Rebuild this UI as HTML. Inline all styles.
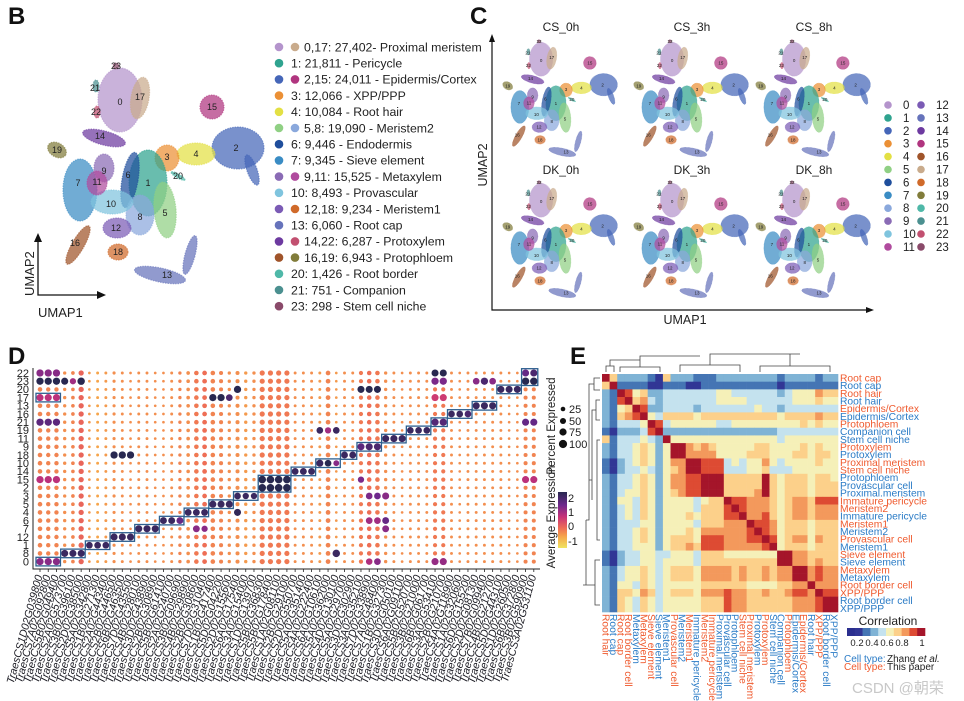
<!DOCTYPE html>
<html><head><meta charset="utf-8"><style>
html,body{margin:0;padding:0;background:#fff;}
svg{display:block;font-family:"Liberation Sans","Noto Sans CJK SC",sans-serif;}
</style></head><body>
<svg id="fig" width="964" height="701" viewBox="0 0 964 701" xmlns="http://www.w3.org/2000/svg">
<text x="8" y="24" font-size="24" font-weight="bold" fill="#111">B</text>
<text x="470" y="24" font-size="24" font-weight="bold" fill="#111">C</text>
<text x="8" y="364" font-size="24" font-weight="bold" fill="#111">D</text>
<text x="570" y="364" font-size="24" font-weight="bold" fill="#111">E</text>
<g id="gB"></g>
<g id="gBleg"></g>
<g id="gC"></g>
<g id="gD"></g>
<g id="gE"></g>
</svg>
<script>
var NS="http://www.w3.org/2000/svg";
function mk(p,tag,a){var e=document.createElementNS(NS,tag);for(var k in a)e.setAttribute(k,a[k]);p.appendChild(e);return e;}

var clusterColors=["#b494cc","#2fa38f","#4566b8","#eb9035","#e3e044","#90d084","#1f4e9c","#3a8cc4","#8aa8dc","#8a6bb5","#7fc4de","#b04b9e","#7b5bb5","#6673bb","#6d3aa0","#b0357f","#a0542a","#c9ab8c","#d06a2a","#817c3a","#4fb8a8","#4b9090","#c25070","#8a4a6a"];
var blobId=[0,17,2,2,4,3,7,1,6,5,8,10,9,11,12,18,16,13,13,14,19,15,20,21,22,23];
var blobCx=[120,140,238,252,196,167,80,148,130,165,140,112,104,97,117,118,78,160,190,104,57,212,178,96,97,116];
var blobCy=[100,98,148,170,154,158,190,183,180,210,215,202,168,183,228,252,245,275,255,138,150,107,176,86,112,66];
var blobRx=[22,9,26,5,19,12,17,19,8,11,14,21,10,10,14,10,6,26,5,22,10,12,8,3,3,3];
var blobRy=[32,21,21,16,11,13,31,33,28,28,20,12,14,12,10,8,22,7,20,7,7,12,2,6,6,3];
var blobRot=[0,10,0,-20,0,0,0,0,10,-5,0,0,0,0,0,0,30,12,15,15,30,0,30,0,0,0];
var labCx=[120,140,236,196,167,78,148,128,165,140,111,104,97,116,118,75,167,100,57,212,178,95,96,116];
var labCy=[102,97,148,154,157,183,183,175,213,217,204,171,182,228,252,243,275,136,150,107,176,88,112,66];
var labTxt=["0","17","2","4","3","7","1","6","5","8","10","9","11","12","18","16","13","14","19","15","20","21","22","23"];

function drawUmap(g,ox,oy,s,fs){
  for(var i=0;i<blobId.length;i++){
    var cx=ox+(blobCx[i]-150)*s, cy=oy+(blobCy[i]-175)*s;
    var e=mk(g,"ellipse",{cx:cx,cy:cy,rx:blobRx[i]*s,ry:blobRy[i]*s,fill:clusterColors[blobId[i]],"fill-opacity":0.72,stroke:clusterColors[blobId[i]],"stroke-width":1.2*s,"stroke-opacity":0.6,"stroke-dasharray":(1.5*s)+","+(1*s),transform:"rotate("+blobRot[i]+" "+cx+" "+cy+")"});
    
    
  }
  for(var j=0;j<labTxt.length;j++){
    var t=mk(g,"text",{x:ox+(labCx[j]-150)*s,y:oy+(labCy[j]-175)*s+fs*0.35,"font-size":fs,"text-anchor":"middle",fill:"#222"});
    t.textContent=labTxt[j];
    
    
  }
}
var gB=document.getElementById("gB");
drawUmap(gB,150,175,1,9);
(function(){
  var l=mk(gB,"path",{d:"M38 240 V295 H100",stroke:"#111","stroke-width":1.3,fill:"none"});
  
  
  var a1=mk(gB,"path",{d:"M34 242 L38 233 L42 242 Z M97 291 L106 295 L97 299 Z",fill:"#111"});
  
  
  var t1=mk(gB,"text",{x:38,y:317,"font-size":13,fill:"#222"});t1.textContent="UMAP1";
  
  
  var t2=mk(gB,"text",{x:0,y:0,"font-size":13,fill:"#222",transform:"translate(34,296) rotate(-90)"});t2.textContent="UMAP2";
  
  
})();
var legDots=[[0,17],[1],[2,15],[3],[4],[5,8],[6],[7],[9,11],[10],[12,18],[13],[14,22],[16,19],[20],[21],[23]];
var legText=["0,17: 27,402- Proximal meristem","1: 21,811 - Pericycle","2,15: 24,011 - Epidermis/Cortex","3: 12,066 - XPP/PPP","4: 10,084 - Root hair","5,8: 19,090 - Meristem2","6: 9,446 - Endodermis","7: 9,345 - Sieve element","9,11: 15,525 - Metaxylem","10: 8,493 - Provascular","12,18: 9,234 - Meristem1","13: 6,060 - Root cap","14,22: 6,287 - Protoxylem","16,19: 6,943 - Protophloem","20: 1,426 - Root border","21: 751 - Companion","23: 298 - Stem cell niche"];
(function(){
  var g=document.getElementById("gBleg");
  for(var i=0;i<legText.length;i++){
    var y=47+i*16.2;
    for(var k=0;k<legDots[i].length;k++){
      var c=mk(g,"circle",{cx:279+k*16,cy:y,r:4.3,fill:clusterColors[legDots[i][k]]});
      
      
    }
    var t=mk(g,"text",{x:legDots[i].length>1?304:291,y:y+4.3,"font-size":12.3,fill:"#222"});
    t.textContent=legText[i];
    
    
  }
})();
var cTitles=["CS_0h","CS_3h","CS_8h","DK_0h","DK_3h","DK_8h"];
var cCx=[557,688,810,557,688,810];
var cCy=[99,99,99,240,240,240];
(function(){
  var g=document.getElementById("gC");
  for(var i=0;i<6;i++){
    var sg=mk(g,"g",{});
    
    
    drawUmap(sg,cCx[i],cCy[i],0.53,4.5);
    var t=mk(g,"text",{x:cCx[i]+4,y:i<3?31:174,"font-size":12,"text-anchor":"middle",fill:"#222"});
    t.textContent=cTitles[i];
    
    
  }
  var ax=mk(g,"path",{d:"M492 40 V310 H868",stroke:"#111","stroke-width":1.2,fill:"none"});
  
  
  var ar=mk(g,"path",{d:"M489 42 L492 34 L495 42 Z M866 307 L874 310 L866 313 Z",fill:"#111"});
  
  
  var t1=mk(g,"text",{x:685,y:324,"font-size":12.5,"text-anchor":"middle",fill:"#222"});t1.textContent="UMAP1";
  
  
  var t2=mk(g,"text",{x:0,y:0,"font-size":12.5,"text-anchor":"middle",fill:"#222",transform:"translate(487,165) rotate(-90)"});t2.textContent="UMAP2";
  
  
  for(var c=0;c<24;c++){
    var col=c<12?0:1,row=c%12,y=105+row*12.9;
    var d=mk(g,"circle",{cx:888+col*33,cy:y,r:3.8,fill:clusterColors[c]});
    
    
    var tt=mk(g,"text",{x:col?936:903,y:y+4,"font-size":11.5,fill:"#222"});tt.textContent=String(c);
    
    
  }
})();

// ----- Panel D -----
var dRows=[22,23,20,17,13,16,21,19,11,9,18,10,14,15,2,3,5,4,6,7,12,1,8,0];
var dGenes=["TraesCS1D02G039800","TraesCS7A02G092800","TraesCS5B02G049400","TraesCS2A02G573700","TraesCS3B02G396100","TraesCS2D02G385000","TraesCS5A02G342800","TraesCS1B02G271300","TraesCS2A02G443400","TraesCS2B02G446500","TraesCS6B02G463500","TraesCS7D02G435500","TraesCS4B02G280100","TraesCS3D02G438900","TraesCS2B02G308900","TraesCS5B02G614100","TraesCS2A02G240700","TraesCS3B02G096900","TraesCS4B02G298900","TraesCS2B02G308600","TraesCS7D02G310400","TraesCS1B02G417400","TraesCS5D02G042200","TraesCS2D02G155600","TraesCS6A02G175400","TraesCS3A02G154000","TraesCS1D02G139700","TraesCS5B02G368300","TraesCS5B02G178400","TraesCS1A02G081100","TraesCS2B02G291000","TraesCS2D02G550700","TraesCS5A02G351400","TraesCS4A02G222400","TraesCS6A02G106100","TraesCS5A02G362000","TraesCS4D02G130100","TraesCS5A02G297000","TraesCS3D02G302900","TraesCS3A02G352100","TraesCS7D02G338900","TraesCS7A02G484000","TraesCS1B02G327300","TraesCS3D02G050100","TraesCS6A02G091100","TraesCS5B02G520700","TraesCS3B02G210000","TraesCS6B02G061700","TraesCS3A02G534100","TraesCS2B02G210700","TraesCS4A02G118900","TraesCS1A02G320600","TraesCS6D02G155200","TraesCS2D02G081300","TraesCS7B02G099400","TraesCS4B02G212700","TraesCS5D02G443100","TraesCS1D02G260500","TraesCS6B02G372800","TraesCS3B02G590900","TraesCS3A02G531100"];
var dBaseExpr=[-0.2,-0.2,-0.2,-0.3,-0.2,0.1,-0.4,-0.5,-0.4,-0.3,-0.3,-0.3,-0.3,-0.3,-0.3,-0.3,-0.3,-0.2,-0.3,-0.1,0.0,-0.2,-0.2,-0.3,-0.3,-0.4,-0.3,-0.1,-0.1,-0.1,-0.1,-0.3,-0.3,-0.3,-0.4,-0.2,-0.4,-0.3,-0.3,-0.1,0.0,-0.1,-0.3,-0.3,-0.3,-0.3,-0.3,-0.3,-0.1,-0.1,-0.3,-0.3,-0.3,-0.3,-0.3,-0.3,-0.3,-0.3,-0.3,-0.2,-0.2];
var dBasePct=[28,25,25,12,15,40,6,8,8,10,8,6,8,8,6,6,8,12,15,28,30,28,20,12,20,12,12,38,38,38,38,8,8,8,8,30,6,8,8,22,28,28,12,8,6,8,8,8,22,22,8,6,8,8,8,8,8,6,6,20,20];
var hiRow=[0,0,0,17,17,17,8,8,8,1,1,1,12,12,12,7,7,7,6,6,6,4,4,4,5,5,5,3,3,3,15,15,15,15,2,2,2,2,14,14,14,10,10,10,18,18,9,9,9,11,11,11,19,19,19,21,21,16,16,16,13,13,13,20,20,20,23,23,22,22,
 22,22,22,23,23,23,23,23,23,21,21,21,15,15,15,17,17,17,20,4,18,18,18,20,20,20,19,19,19,8,23,23,22,22,23,23,23,21,21,15,15,0,0,17,17,0,0,3,3,3,6,6,6,7,7,7,15,2,12];
var hiCol=[0,1,2,0,1,2,3,4,5,6,7,8,9,10,11,12,13,14,15,16,17,18,19,20,21,22,23,24,25,26,27,28,29,30,27,28,29,30,31,32,33,34,35,36,37,38,39,40,41,42,43,44,45,46,47,48,49,50,51,52,53,54,55,56,57,58,59,60,59,60,
 0,1,2,0,1,2,3,4,5,0,1,2,0,1,2,21,22,23,24,24,9,10,11,39,40,41,34,35,36,36,48,49,48,49,53,54,55,59,60,59,60,48,49,48,49,40,41,42,40,41,42,40,41,42,19,20,39];
var hiExpr=[1.2,1.2,1.2,0.8,0.8,0.8,2,2,2,2,2,2,2,2,2,2,2,2,2,2,1.5,2,2,2,2,2,2,2,2,2,2.2,2.2,2.2,2.2,2.2,2.2,2.2,2.2,2,2,2,2,2.2,1.2,2,2,1.6,1.8,1.8,2,2,2,2,2,2,1.7,1.7,2,2,1.8,2,2,2,2,2,2,2.2,2.2,1.5,1.8,
 1.2,1.2,1.2,2.2,2.2,2.2,2.2,1.0,2.2,1.6,1.6,1.6,0.8,0.8,0.8,2.2,2.2,1.8,2.2,2.1,2.2,2.2,2.2,2.2,2.2,2.2,2,1.0,2,2,1.3,1.3,2.2,2.2,1.2,1.8,1.2,1.5,1.5,0.8,0.8,1.1,1.1,0.6,0.6,0.9,1.2,1.2,1.3,1.4,1.5,1.0,1.0,1.2,1.2,1.2,1.3];
var hiPct=[85,85,85,80,80,80,80,80,80,70,70,70,80,80,80,80,80,80,75,75,75,75,75,75,80,80,80,70,60,60,95,95,95,95,95,95,95,95,75,75,75,80,70,50,75,75,80,80,80,80,80,80,70,70,70,85,85,70,70,70,80,80,80,80,80,80,90,90,80,80,
 85,85,85,85,85,85,80,60,90,85,85,85,85,85,85,85,85,70,85,80,85,85,85,80,80,80,70,60,70,90,85,85,80,80,70,85,70,80,80,80,80,80,80,80,80,65,70,80,70,70,75,70,70,75,75,60,60];

var dX0=40,dStep=8.23,dY0=373,dRowH=8.2;
function dx(c){return dX0+c*dStep;}
function dy(label){return dY0+dRows.indexOf(label)*dRowH;}
function dr(p){return 0.5+3.4*Math.sqrt(p/100);}
var exprStops=[-1.2,-0.5,0,0.7,1.4,2.2];
var exprCols=[[240,228,96],[246,165,75],[238,110,85],[200,50,120],[110,40,140],[40,40,80]];
function exprColor(v){
  if(v<=exprStops[0])return "rgb("+exprCols[0]+")";
  for(var i=1;i<exprStops.length;i++){if(v<=exprStops[i]){var f=(v-exprStops[i-1])/(exprStops[i]-exprStops[i-1]);var a=exprCols[i-1],b=exprCols[i];return "rgb("+Math.round(a[0]+(b[0]-a[0])*f)+","+Math.round(a[1]+(b[1]-a[1])*f)+","+Math.round(a[2]+(b[2]-a[2])*f)+")";}}
  return "rgb("+exprCols[exprCols.length-1]+")";
}
var boxRows=[[0],[17],[8],[1],[12],[7],[6],[4],[5],[3],[15,2],[14],[10],[18],[9],[11],[19],[21],[16],[13],[20],[23,22]];
var boxStart=[0,0,3,6,9,12,15,18,21,24,27,31,34,37,39,42,45,48,50,53,56,59];
var boxEnd=[2,2,5,8,11,14,17,20,23,26,30,33,36,38,41,44,47,49,52,55,58,60];
(function(){
  var g=document.getElementById("gD");
  var nR=dRows.length,nC=dGenes.length;
  var grid={};
  for(var r=0;r<nR;r++)for(var c=0;c<nC;c++)grid[dRows[r]+"_"+c]=[dBaseExpr[c],dBasePct[c]];
  for(var h=0;h<hiRow.length;h++)grid[hiRow[h]+"_"+hiCol[h]]=[hiExpr[h],hiPct[h]];
  for(var r2=0;r2<nR;r2++){
    var lab=dRows[r2];
    var t=mk(g,"text",{x:29,y:dy(lab)+3.8,"font-size":11,"text-anchor":"end",fill:"#222"});t.textContent=String(lab);
    
    
    for(var c2=0;c2<nC;c2++){
      var v=grid[lab+"_"+c2];
      var d=mk(g,"circle",{cx:dx(c2),cy:dy(lab),r:dr(v[1]),fill:exprColor(v[0])});
      
      
    }
  }
  for(var b=0;b<boxRows.length;b++){
    var ys=boxRows[b].map(dy),y1=Math.min.apply(null,ys)-4.3,y2=Math.max.apply(null,ys)+4.3;
    var rc=mk(g,"rect",{x:dx(boxStart[b])-4,y:y1,width:dx(boxEnd[b])-dx(boxStart[b])+8,height:y2-y1,fill:"none",stroke:"#2d5f8f","stroke-width":1.3});
    
    
  }
  var ax=mk(g,"path",{d:"M33 368 V569 H540",stroke:"#222","stroke-width":1,fill:"none"});
  
  
  for(var c3=0;c3<nC;c3++){
    var tk=mk(g,"line",{x1:dx(c3),y1:569,x2:dx(c3),y2:572,stroke:"#222","stroke-width":0.8});
    
    
    var gl=mk(g,"text",{x:0,y:0,"font-size":10.8,"font-style":"italic","text-anchor":"end",fill:"#1a1a22",transform:"translate("+(dx(c3)+2.5)+",576) rotate(-75)"});
    gl.textContent=dGenes[c3];
    
    
  }
  var pt=mk(g,"text",{x:0,y:0,"font-size":11.5,"text-anchor":"middle",fill:"#222",transform:"translate(555,426) rotate(-90)"});pt.textContent="Percent Expressed";
  
  
  var pv=[25,50,75,100],py=[409,421,432,444];
  for(var i=0;i<4;i++){
    var pc=mk(g,"circle",{cx:563,cy:py[i],r:dr(pv[i])*1.05,fill:"#111"});
    
    
    var ptt=mk(g,"text",{x:569,y:py[i]+4,"font-size":11,fill:"#222"});ptt.textContent=String(pv[i]);
    
    
  }
  var at=mk(g,"text",{x:0,y:0,"font-size":11.5,"text-anchor":"middle",fill:"#222",transform:"translate(555,517) rotate(-90)"});at.textContent="Average Expression";
  
  
  var defs=mk(g,"defs",{});
  var lg=mk(defs,"linearGradient",{id:"dgrad",x1:0,y1:1,x2:0,y2:0});
  for(var s=0;s<exprStops.length;s++){mk(lg,"stop",{offset:(exprStops[s]-exprStops[0])/(exprStops[5]-exprStops[0]),"stop-color":exprColor(exprStops[s])});}
  var cb=mk(g,"rect",{x:558,y:492,width:9,height:56,fill:"url(#dgrad)"});
  
  
  var cv=["2","1","0","-1"],cy=[498,512,526,541];
  for(var k=0;k<4;k++){
    var ct=mk(g,"text",{x:568,y:cy[k]+4,"font-size":11,fill:"#222"});ct.textContent=cv[k];
    
    
  }
})();

// ----- Panel E -----
var eRowNames=["Root cap","Root cap","Root hair","Root hair","Epidermis/Cortex","Epidermis/Cortex","Protophloem","Companion cell","Stem cell niche","Protoxylem","Protoxylem","Proximal meristem","Stem cell niche","Protophloem","Provascular cell","Proximal.meristem","Immature pericycle","Meristem2","Immature pericycle","Meristem1","Meristem2","Provascular cell","Meristem1","Sieve element","Sieve element","Metaxylem","Metaxylem","Root border cell","XPP/PPP","Root border cell","XPP/PPP"];
var eRowSrc=["t","z","t","z","t","z","t","z","z","t","z","t","t","z","z","z","t","t","z","t","z","t","z","t","z","t","z","t","t","z","z"];
var eColNames=["Root hair","Root cap","Root cap","Root border cell","Metaxylem","Metaxylem","Sieve element","Sieve element","Meristem1","Provascular cell","Meristem2","Meristem1","Immature pericycle","Meristem2","Immature pericycle","Proximal.meristem","Provascular cell","Protophloem","Stem cell niche","Proximal meristem","Protoxylem","Protoxylem","Stem cell niche","Companion cell","Protophloem","Epidermis/Cortex","Epidermis/Cortex","Root hair","XPP/PPP","Root border cell","XPP/PPP"];
var eColSrc=["t","z","t","t","z","t","t","z","z","t","z","t","z","t","t","z","z","z","t","t","z","t","z","z","t","z","t","z","t","z","z"];
var eCorr=[
[9,6,3,3,3,3,2,1,6,3,3,3,2,2,2,3,3,3,3,3,3,3,3,2,3,3,3,3,2,3,3],
[6,9,2,2,2,2,1,1,2,2,2,1,1,2,2,2,2,2,2,2,2,2,2,1,2,2,2,2,2,2,2],
[3,2,9,8,5,6,3,3,4,4,4,4,4,4,4,5,5,4,4,4,4,4,4,3,4,5,5,5,7,6,6],
[3,2,8,9,6,7,4,3,4,4,4,4,4,4,4,5,5,5,5,4,4,4,4,4,4,5,5,5,6,5,5],
[3,2,5,6,9,8,3,3,4,4,4,4,3,4,4,4,4,4,4,4,5,4,4,3,4,4,4,4,4,4,4],
[3,2,6,7,8,9,5,4,6,6,6,6,5,6,6,6,6,6,6,6,6,6,6,5,6,6,6,6,7,6,6],
[3,2,4,4,4,5,9,8,4,5,5,5,5,5,5,4,4,5,5,5,5,5,5,5,5,5,6,5,6,5,5],
[2,1,3,3,3,4,8,9,3,3,3,3,3,3,3,3,3,3,3,3,3,3,3,4,4,4,4,4,4,4,4],
[6,2,4,4,4,5,4,3,9,5,5,5,5,5,5,5,5,5,5,5,5,5,5,4,5,5,5,5,5,5,5],
[3,2,4,4,5,6,5,3,5,9,9,7,6,7,6,5,5,5,5,5,6,6,5,5,5,5,6,5,6,5,5],
[3,2,4,4,5,6,5,3,5,9,9,7,7,7,7,5,5,5,5,6,6,6,5,5,5,6,6,5,6,6,5],
[2,1,3,4,5,6,5,3,5,7,7,9,9,8,8,8,4,5,4,5,5,7,5,4,5,5,5,5,6,5,5],
[2,1,3,4,4,5,4,3,5,6,7,9,9,8,8,8,4,4,4,5,5,6,4,4,4,5,5,5,5,5,5],
[3,2,4,4,5,6,5,3,5,7,7,8,8,9,9,9,6,6,6,6,6,9,6,5,6,6,6,5,6,6,5],
[3,2,4,4,5,6,5,3,5,7,7,8,8,9,9,9,6,6,6,6,6,9,6,5,6,6,6,5,6,6,6],
[3,2,4,5,5,6,5,3,5,6,7,8,8,9,9,9,6,6,6,6,7,9,6,5,6,6,6,5,6,6,6],
[3,2,5,5,4,6,5,3,5,5,5,5,4,5,6,6,9,8,8,7,7,7,6,5,6,7,7,6,8,8,8],
[3,2,4,5,4,6,5,3,5,5,5,5,4,6,6,6,8,9,8,7,7,7,6,5,6,7,7,6,7,7,7],
[3,2,4,5,4,6,5,3,5,5,5,6,5,6,6,6,8,8,9,7,7,8,6,5,6,7,7,6,7,7,7],
[3,2,4,4,4,5,5,3,5,5,5,5,4,6,6,6,7,7,7,9,8,8,7,5,6,6,6,5,6,6,6],
[3,2,4,4,5,6,5,3,5,5,5,6,5,7,7,7,7,7,7,8,9,8,7,5,6,6,6,5,6,6,6],
[3,2,4,4,5,6,5,3,5,6,6,6,5,8,8,8,7,7,7,8,8,9,8,5,6,7,7,5,7,6,6],
[3,2,4,4,5,5,5,3,5,6,6,7,6,8,8,8,7,7,7,7,7,8,9,5,6,6,6,5,6,6,6],
[2,1,3,4,4,5,5,4,4,5,5,5,4,6,6,6,5,5,5,5,5,5,5,9,9,7,7,6,6,6,6],
[2,1,3,4,4,5,5,4,5,5,5,5,4,6,6,6,6,6,6,6,6,6,6,9,9,7,7,6,7,6,6],
[3,2,4,5,5,6,5,4,5,6,6,6,5,7,7,7,7,6,7,6,6,7,6,7,7,9,9,7,8,7,7],
[3,2,4,5,5,6,5,4,5,6,6,6,5,7,7,7,7,6,7,6,6,7,6,7,7,9,9,7,8,7,7],
[3,2,5,5,4,6,5,4,5,5,5,5,5,6,6,6,6,6,6,5,5,5,5,6,6,7,7,9,7,7,7],
[3,2,6,6,5,7,6,4,5,6,6,6,5,7,7,7,8,7,7,6,6,7,6,6,7,8,8,7,9,8,8],
[3,2,6,5,4,6,5,4,5,5,5,5,5,6,6,6,8,7,7,6,6,6,6,6,6,7,7,7,8,9,9],
[3,2,6,5,4,6,5,4,5,5,5,5,5,6,6,6,8,7,7,6,6,6,6,6,6,7,7,7,8,9,9]];
var corrPalette=["#2b2f8f","#313695","#4575b4","#7fb3d5","#c4e2ee","#f5f0b8","#fcd08a","#f3995c","#dd4b33","#a5152a"];
var srcColor={t:"#ef5a2e",z:"#2a7bc6"};
(function(){
  var g=document.getElementById("gE");
  var x0=602,y0=374,cw=236/31,ch=238/31;
  for(var r=0;r<31;r++){
    for(var c=0;c<31;c++){
      var rc=mk(g,"rect",{x:x0+c*cw,y:y0+r*ch,width:cw+0.3,height:ch+0.3,fill:corrPalette[eCorr[r][c]]});
      
      
    }
    var t=mk(g,"text",{x:x0+31*cw+2,y:y0+r*ch+ch/2+3.6,"font-size":10.3,fill:srcColor[eRowSrc[r]]});
    t.textContent=eRowNames[r];
    
    
  }
  for(var c2=0;c2<31;c2++){
    var tc=mk(g,"text",{x:0,y:0,"font-size":10.3,fill:srcColor[eColSrc[c2]],transform:"translate("+(x0+c2*cw+cw/2-3.5)+","+(y0+31*ch+2)+") rotate(90)"});
    tc.textContent=eColNames[c2];
    
    
  }
  var dl=mk(g,"path",{d:"M600 378 H594 V390 H600 M594 384 H589 V470 M600 400 H596 V420 H600 M596 410 H592 V500 M600 440 H597 V540 H600 M592 480 H589 M589 470 V520 H586 M600 560 H595 V605 H600 M595 585 H586 M586 520 V585 H583",stroke:"#444","stroke-width":0.8,fill:"none"});
  
  
  var dt=mk(g,"path",{d:"M606 372 V366 H614 V372 M610 366 V360 H640 M620 372 V367 H660 V372 M640 367 V356 H700 M680 372 V365 H740 V372 M710 365 V354 H800 M760 372 V366 H830 V372 M790 366 V354",stroke:"#444","stroke-width":0.8,fill:"none"});
  
  
  var tl=mk(g,"text",{x:888,y:625,"font-size":12,"text-anchor":"middle",fill:"#222"});tl.textContent="Correlation";
  
  
  for(var k=0;k<10;k++){
    var cbk=mk(g,"rect",{x:847+k*7.8,y:628,width:8.1,height:8,fill:corrPalette[k]});
    
    
  }
  var tv=["0.2","0.4","0.6","0.8","1"],tx=[857,872,887,902,922];
  for(var j=0;j<5;j++){
    var tt=mk(g,"text",{x:tx[j],y:646,"font-size":9.5,"text-anchor":"middle",fill:"#222"});tt.textContent=tv[j];
    
    
  }
  var a=mk(g,"text",{x:844,y:662,"font-size":10,fill:"#2a7bc6"});a.textContent="Cell type:";
  
  
  var b=mk(g,"text",{x:887,y:662,"font-size":10,fill:"#222"});b.innerHTML="Zhang <tspan font-style='italic'>et al.</tspan>";
  
  
  var a2=mk(g,"text",{x:844,y:670,"font-size":10,fill:"#ef5a2e"});a2.textContent="Cell type:";
  
  
  var b2=mk(g,"text",{x:887,y:670,"font-size":10,fill:"#222"});b2.textContent="This paper";
  
  
  var w=mk(g,"text",{x:852,y:693,"font-size":15,fill:"#c8c8c8"});w.textContent="CSDN @朝荣";
  
  
})();
</script>
</body></html>
